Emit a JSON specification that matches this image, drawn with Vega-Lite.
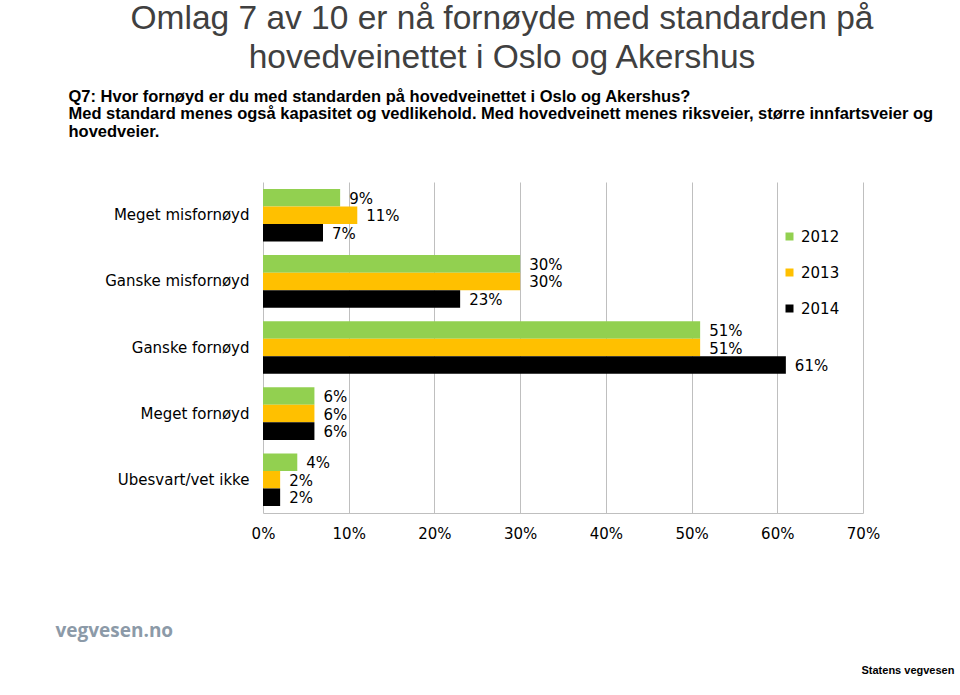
{
  "$schema": "https://vega.github.io/schema/vega-lite/v6.json",
  "width": 600,
  "height": 331,
  "autosize": {"type": "none"},
  "padding": {"left": 263, "top": 182, "right": 97, "bottom": 182},
  "background": "white",
  "config": {"view": {"stroke": null}, "font": "DejaVu Sans"},
  "title": {
    "text": ["Omlag 7 av 10 er nå fornøyde med standarden på", "hovedveinettet i Oslo og Akershus"],
    "font": "Liberation Sans",
    "fontSize": 33.5,
    "fontWeight": "normal",
    "color": "#404040",
    "lineHeight": 39,
    "anchor": "middle",
    "frame": "group",
    "dx": -61,
    "dy": -3,
    "offset": 10
  },
  "data": {
    "values": [
      {"cat": "Meget misfornøyd", "year": "2012", "v": 0.09},
      {"cat": "Meget misfornøyd", "year": "2013", "v": 0.11},
      {"cat": "Meget misfornøyd", "year": "2014", "v": 0.07},
      {"cat": "Ganske misfornøyd", "year": "2012", "v": 0.30},
      {"cat": "Ganske misfornøyd", "year": "2013", "v": 0.30},
      {"cat": "Ganske misfornøyd", "year": "2014", "v": 0.23},
      {"cat": "Ganske fornøyd", "year": "2012", "v": 0.51},
      {"cat": "Ganske fornøyd", "year": "2013", "v": 0.51},
      {"cat": "Ganske fornøyd", "year": "2014", "v": 0.61},
      {"cat": "Meget fornøyd", "year": "2012", "v": 0.06},
      {"cat": "Meget fornøyd", "year": "2013", "v": 0.06},
      {"cat": "Meget fornøyd", "year": "2014", "v": 0.06},
      {"cat": "Ubesvart/vet ikke", "year": "2012", "v": 0.04},
      {"cat": "Ubesvart/vet ikke", "year": "2013", "v": 0.02},
      {"cat": "Ubesvart/vet ikke", "year": "2014", "v": 0.02}
    ]
  },
  "layer": [
    {
      "mark": {"type": "bar"},
      "encoding": {
        "y": {
          "field": "cat", "type": "nominal",
          "sort": ["Meget misfornøyd", "Ganske misfornøyd", "Ganske fornøyd", "Meget fornøyd", "Ubesvart/vet ikke"],
          "scale": {"paddingInner": 0.205, "paddingOuter": 0.106},
          "axis": {
            "title": ["Q7: Hvor fornøyd er du med standarden på hovedveinettet i Oslo og Akershus?", "Med standard menes også kapasitet og vedlikehold. Med hovedveinett menes riksveier, større innfartsveier og", "hovedveier."],
            "titleX": -195, "titleY": -81, "titleAngle": 0, "titleAlign": "left", "titleBaseline": "alphabetic",
            "titleFont": "Liberation Sans", "titleFontSize": 16.5, "titleFontWeight": "bold", "titleColor": "#000000", "titleLineHeight": 17.5,
            "labelFont": "DejaVu Sans", "labelFontSize": 15, "labelColor": "#000000", "labelPadding": 14,
            "ticks": false, "domain": false
          }
        },
        "yOffset": {"field": "year", "type": "nominal", "sort": ["2012", "2013", "2014"]},
        "x": {
          "field": "v", "type": "quantitative",
          "scale": {"domain": [0, 0.7], "nice": false},
          "axis": {
            "values": [0, 0.1, 0.2, 0.3, 0.4, 0.5, 0.6, 0.7], "format": ".0%",
            "grid": true, "gridColor": "#bfbfbf", "domainColor": "#bfbfbf", "ticks": false,
            "labelPadding": 13, "labelFontSize": 15, "labelColor": "#000000", "labelFont": "DejaVu Sans", "labelFlush": false,
            "title": "vegvesen.no", "titleX": -208, "titleY": 117, "titleAlign": "left", "titleBaseline": "middle",
            "titleFont": "Open Sans", "titleFontSize": 19, "titleFontWeight": "bold", "titleColor": "#8c9aa8"
          }
        },
        "color": {
          "field": "year", "type": "nominal",
          "scale": {"domain": ["2012", "2013", "2014"], "range": ["#92D050", "#FFC000", "#000000"]},
          "legend": {
            "orient": "none", "legendX": 519, "legendY": 47, "title": null, "direction": "vertical",
            "symbolType": "square", "symbolSize": 64, "symbolStrokeWidth": 0, "symbolOpacity": 1,
            "labelFontSize": 15, "labelFont": "DejaVu Sans", "labelColor": "#000000", "rowPadding": 20, "labelOffset": 4, "padding": 0
          }
        }
      }
    },
    {
      "mark": {"type": "text", "align": "left", "baseline": "middle", "dx": 9, "dy": 1, "fontSize": 15, "font": "DejaVu Sans", "color": "#000000"},
      "encoding": {
        "y": {"field": "cat", "type": "nominal", "sort": ["Meget misfornøyd", "Ganske misfornøyd", "Ganske fornøyd", "Meget fornøyd", "Ubesvart/vet ikke"]},
        "yOffset": {"field": "year", "type": "nominal", "sort": ["2012", "2013", "2014"]},
        "x": {
          "field": "v", "type": "quantitative",
          "axis": {
            "orient": "top", "labels": false, "ticks": false, "domain": false, "grid": false,
            "title": "Statens vegvesen", "titleX": 598, "titleY": 488, "titleAlign": "left", "titleBaseline": "middle",
            "titleFont": "Liberation Sans", "titleFontSize": 11, "titleFontWeight": "bold", "titleColor": "#000000"
          }
        },
        "text": {"field": "v", "type": "quantitative", "format": ".0%"}
      }
    }
  ],
  "resolve": {"axis": {"x": "independent"}}
}
